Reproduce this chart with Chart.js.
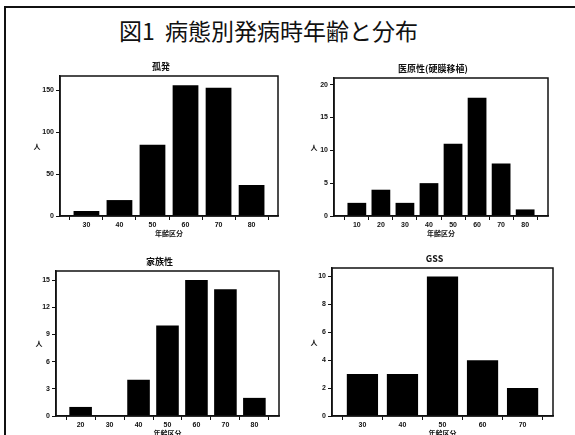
<!DOCTYPE html>
<html>
<head>
<meta charset="utf-8">
<script src="https://cdn.jsdelivr.net/npm/chart.js@4/dist/chart.umd.min.js"></script>
<style>
  html, body { margin: 0; padding: 0; background: #fff; overflow: hidden; }
  body { width: 575px; height: 435px; position: relative; }
  #frame { position: absolute; left: 4px; top: 6px; right: -4px; bottom: -4px; border-left: 2px solid #111; border-top: 2px solid #111; }
  #mainTitle { position: absolute; left: 0; width: 537px; top: 15px; text-align: center; font-family: "Noto Sans CJK JP"; font-size: 23px; line-height: 30px; color: #111; }
  canvas { position: absolute; }
</style>
</head>
<body>
<div id="frame"></div>
<div id="mainTitle">図1&nbsp;&nbsp;病態別発病時年齢と分布</div>
<canvas id="c1" width="264" height="186" style="left:20px;top:56px"></canvas>
<canvas id="c2" width="260" height="184" style="left:294px;top:58px"></canvas>
<canvas id="c3" width="269" height="191" style="left:16px;top:251px"></canvas>
<canvas id="c4" width="267" height="194" style="left:292px;top:248px"></canvas>
<script>
// 孤発
const sporadicAges = ['30', '40', '50', '60', '70', '80'];
const sporadicCounts = [6, 19, 85, 156, 153, 37];

// 医原性(硬膜移植)
const iatrogenicAges = ['10', '20', '30', '40', '50', '60', '70', '80'];
const iatrogenicCounts = [2, 4, 2, 5, 11, 18, 8, 1];

// 家族性
const familialAges = ['20', '30', '40', '50', '60', '70', '80'];
const familialCounts = [1, 0, 4, 10, 15, 14, 2];

// GSS
const gssAges = ['30', '40', '50', '60', '70'];
const gssCounts = [3, 3, 10, 4, 2];

const tickFont = { family: 'Liberation Sans', size: 7, weight: 'bold' };

// draws the plot box, panel title, 人 and 年齢区分
const panelText = {
    id: 'panelText',
    afterDraw(chart, args, opts) {
        const { ctx, chartArea: a } = chart;
        ctx.save();
        ctx.strokeStyle = '#111';
        ctx.lineWidth = 1.5;
        ctx.strokeRect(a.left, a.top, a.right - a.left, a.bottom - a.top);
        ctx.fillStyle = '#111';
        ctx.textAlign = 'center';
        ctx.textBaseline = 'middle';
        const cx = (a.left + a.right) / 2;
        ctx.font = 'bold 9px "Noto Sans CJK JP"';
        ctx.fillText(opts.title, cx - 8, a.top - 9);
        ctx.font = 'bold 7px "Noto Sans CJK JP"';
        ctx.fillText('人', a.left - opts.yOff, (a.top + a.bottom) / 2);
        ctx.fillText('年齢区分', cx, a.bottom + 17);
        ctx.restore();
    }
};

function makePanel(id, title, ages, counts, yMax, step, pad, yOff) {
    new Chart(document.getElementById(id), {
        type: 'bar',
        data: {
            datasets: [{
                data: counts.map((v, i) => ({ x: i, y: v })),
                backgroundColor: '#000',
                borderWidth: 0,
                categoryPercentage: 1,
                barPercentage: 0.78
            }]
        },
        plugins: [panelText],
        options: {
            responsive: false,
            animation: false,
            layout: { padding: { top: 20, right: 6, left: 0, bottom: 0 } },
            plugins: {
                legend: { display: false },
                tooltip: { enabled: false },
                panelText: { title, yOff }
            },
            scales: {
                x: {
                    type: 'linear',
                    offset: false,
                    min: -0.5 - pad,
                    max: ages.length - 0.5 + pad,
                    afterBuildTicks: s => { s.ticks = ages.map((_, i) => ({ value: i })); },
                    afterFit: s => { s.height = 26; },
                    ticks: { callback: v => ages[v], font: tickFont, color: '#111', maxRotation: 0, autoSkip: false, padding: 1 },
                    grid: { drawOnChartArea: false, tickLength: 4, color: '#111', lineWidth: 1 },
                    border: { color: '#111', width: 1.5 }
                },
                y: {
                    min: 0,
                    max: yMax,
                    afterFit: s => { s.width = 40; },
                    ticks: { stepSize: step, includeBounds: false, font: tickFont, color: '#111', padding: 2 },
                    grid: { drawOnChartArea: false, tickLength: 4, color: '#111', lineWidth: 1 },
                    border: { color: '#111', width: 1.5 }
                }
            }
        }
    });
}

makePanel('c1', '孤発', sporadicAges, sporadicCounts, 167, 50, 0.3, 23);
makePanel('c2', '医原性(硬膜移植)', iatrogenicAges, iatrogenicCounts, 21, 5, 0.45, 20);
makePanel('c3', '家族性', familialAges, familialCounts, 16, 3, 0.35, 17);
makePanel('c4', 'GSS', gssAges, gssCounts, 10.6, 2, 0.26, 18);
</script>
</body>
</html>
